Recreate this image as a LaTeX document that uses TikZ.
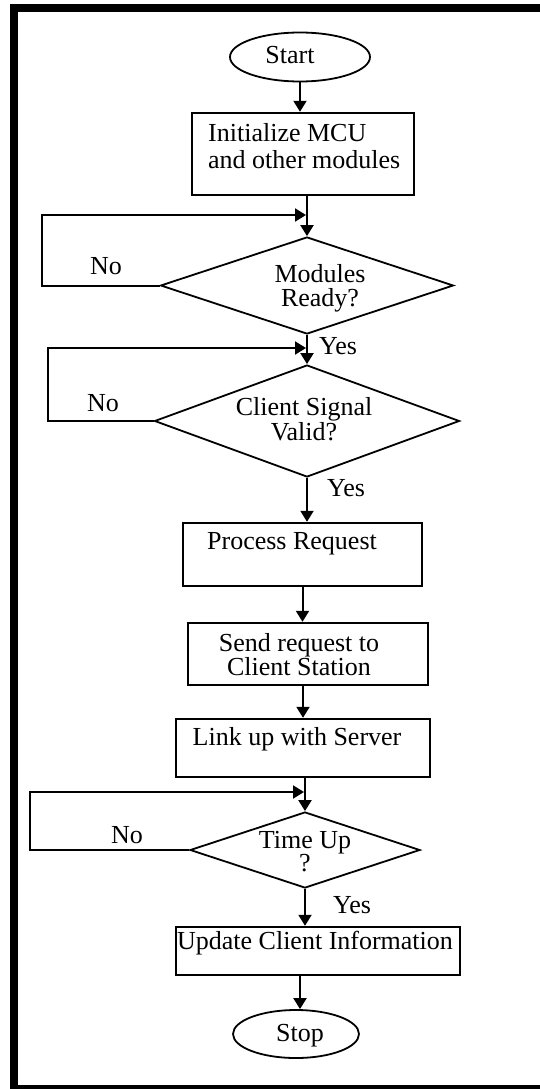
\documentclass[tikz,border=0pt]{standalone}
\usepackage{fontspec}
\setmainfont{Liberation Serif}
\usetikzlibrary{shapes.geometric,arrows.meta}

\newcommand{\flowfont}[1]{\fontsize{26}{#1}\selectfont}

\begin{document}
\begin{tikzpicture}[x=1pt,y=-1pt,
  box/.style={draw, line width=2.4pt, rectangle, inner sep=0pt},
  term/.style={draw, line width=1.8pt, ellipse, inner sep=0pt},
  decision/.style={draw, line width=1.8pt, diamond, inner sep=0pt},
  txt/.style={font=\flowfont{26}, inner sep=0pt, text height=16pt, text depth=4pt},
  txtii/.style={font=\flowfont{#1}, inner sep=0pt, align=center},
  flow/.style={line width=2pt, -{Triangle[length=11pt,width=13pt]}},
]
\useasboundingbox (0,0) rectangle (539,1089);

% outer frame
\draw[line width=8pt, line join=miter] (545,8) -- (14,8) -- (14,1089) -- (545,1089);

% shapes
\node[term, minimum width=140pt, minimum height=49pt] (start) at (300,57) {};
\node[box, minimum width=222pt, minimum height=82pt] (init) at (303,154) {};
\node[decision, minimum width=293pt, minimum height=97pt] (mod) at (307,285.5) {};
\node[decision, minimum width=305pt, minimum height=112pt] (cli) at (307,421) {};
\node[box, minimum width=239pt, minimum height=63pt] (proc) at (302.5,554.5) {};
\node[box, minimum width=240pt, minimum height=62pt] (send) at (308,654) {};
\node[box, minimum width=254pt, minimum height=58pt] (link) at (303,748) {};
\node[decision, minimum width=230pt, minimum height=76pt] (time) at (305,850) {};
\node[box, minimum width=284pt, minimum height=48pt] (upd) at (318,951) {};
\node[term, minimum width=126pt, minimum height=48pt] (stop) at (296,1034) {};

% texts
\node[txt] (tstart) at (290,58) {Start};
\node[txtii=27, align=left, anchor=west] (tinit) at (208,146.5) {Initialize MCU\\and other modules};
\node[txtii=24] (tmod) at (320,288.5) {Modules\\Ready?};
\node[txtii=25] (tcli) at (304,419.5) {Client Signal\\Valid?};
\node[txt] (tproc) at (292,543) {Process Request};
\node[txtii=23] (tsend) at (299,654.5) {Send request to\\Client Station};
\node[txt] (tlink) at (297,739) {Link up with Server};
\node[txtii=22] (ttime) at (305,851.5) {Time Up\\?};
\node[txt] (tupd) at (315,943) {Update Client Information};
\node[txt] (tstop) at (300,1035) {Stop};

% branch labels
\node[txt] (no1) at (106,268) {No};
\node[txt] (yes1) at (338,348) {Yes};
\node[txt] (no2) at (103,405) {No};
\node[txt] (yes2) at (346,490) {Yes};
\node[txt] (no3) at (127,837) {No};
\node[txt] (yes3) at (352,907) {Yes};

% join points of the loops
\coordinate (mj) at (306,215);
\coordinate (cj) at (306,348);
\coordinate (tj) at (304,792);

% main flow
\draw[flow] (start.south) -- (start.south |- init.north);
\draw[flow] (mod.north |- init.south) -- (mod.north);
\draw[flow] (mod.south) -- (cli.north);
\draw[flow] (cli.south) -- (cli.south |- proc.north);
\draw[flow] (proc.south) -- (proc.south |- send.north);
\draw[flow] (link.north |- send.south) -- (link.north);
\draw[flow] (time.north |- link.south) -- (time.north);
\draw[flow] (time.south) -- (time.south |- upd.north);
\draw[flow] ([xshift=4pt]stop.north |- upd.south) -- ([xshift=4pt]stop.north);

% "No" loops
\draw[flow] (mod.west) -- ++(-118,0) |- (mj);
\draw[flow] (cli.west) -- ++(-106,0) |- (cj);
\draw[flow] (time.west) -- ++(-159,0) |- (tj);
\end{tikzpicture}
\end{document}
